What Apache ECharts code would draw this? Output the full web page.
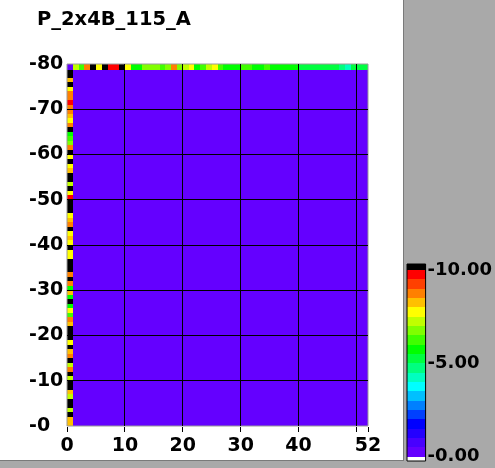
<!DOCTYPE html>
<html><head><meta charset="utf-8">
<script src="https://cdn.jsdelivr.net/npm/echarts@6/dist/echarts.min.js"></script>
<style>html,body{margin:0;padding:0;background:#fff}#c{width:495px;height:468px}</style>
</head><body><div id="c"></div>
<script>
const chartTitle = 'P_2x4B_115_A';
const nCols = 52;
const nRows = 80;
const xTickLabels = [0, 10, 20, 30, 40, 52];
const xTicks = [0, 10, 20, 30, 40, 50, 52];
const xGridLines = [10, 20, 30, 40, 50];
const yGridLines = [10, 20, 30, 40, 50, 60, 70];
const colorBarTicks = [0, 5, 10];
// top row (depth 79..80), columns 0..51
const topRow = [0.2, 7.1, 6.3, 8.7, 11, 7.7, 11, 9.7, 9.7, 11,
  7.7, 5.8, 5.9, 6.6, 6.8, 6.7, 6.2, 6.8, 8.6, 6.9,
  7.2, 7.7, 5.9, 6.0, 7.3, 7.6, 6.1, 5.8, 5.9, 5.7,
  6.2, 6.4, 5.9, 5.8, 6.1, 5.6, 5.8, 5.9, 5.5, 5.7,
  5.2, 5.3, 5.1, 5.2, 5.4, 5.1, 5.0, 4.8, 4.3, 5.1,
  5.3, 5.2];
// left column (x 0..1), rows from depth 0 upward
const leftCol = [8.2, 8.2, 11, 7.2, 11, 11, 7.2, 8.1, 11, 11,
  7.2, 11, 8.7, 7.2, 11, 8.7, 8.2, 11, 7.7, 11,
  11, 11, 8.2, 8.7, 6.2, 7.7, 5.8, 11, 5.8, 8.1,
  5.9, 8.7, 11, 8.7, 11, 11, 11, 7.8, 7.7, 11,
  7.6, 8.2, 7.7, 11, 8.6, 8.3, 7.7, 11, 11, 11,
  9.6, 7.8, 11, 7.1, 11, 11, 8.1, 7.6, 11, 7.7,
  11, 8.6, 6.9, 6.4, 5.8, 11, 8.7, 7.8, 8.2, 8.5,
  8.8, 9.6, 8.8, 8.6, 7.7, 11, 8.2, 11, 11];
const interiorValue = 0;
// colour bins of 0.5 from 0 to 10
const binColors = ['#6400ff', '#4800ff', '#2400ff', '#0000ff', '#0040ff', '#0080ff', '#00c0ff',
  '#00ffff', '#00ffc0', '#00ff80', '#00ff40', '#00ff00', '#40ff00', '#80ff00', '#c0ff00',
  '#ffff00', '#ffc000', '#ff8000', '#ff4000', '#ff0000'];
const overColor = '#000000';
const underColor = '#ffffff';
const binStep = 0.5;

function colorOf(v) {
  if (v > 10) return overColor;
  if (v < 0) return underColor;
  return binColors[Math.min(binColors.length - 1, Math.floor(v / binStep))];
}

const cells = [];
for (let k = 0; k < nRows; k++) {
  for (let c = 0; c < nCols; c++) {
    let v = interiorValue;
    if (k === nRows - 1) v = topRow[c];
    else if (c === 0) v = leftCol[k];
    cells.push([c, k, v]);
  }
}
const barBins = binColors.map((col, i) => [i * binStep, (i + 1) * binStep, i * binStep + 0.25]);
barBins.unshift([-1, 0, -0.5]);
barBins.push([10, 11, 10.5]);

const FONT = 'DejaVu Sans';
const snap = v => Math.round(v - 0.5) + 0.5;
const chart = echarts.init(document.getElementById('c'), null, {renderer: 'canvas'});
chart.setOption({
  animation: false,
  backgroundColor: '#ffffff',
  title: {text: chartTitle, left: 32, top: 5,
    textStyle: {fontFamily: FONT, fontWeight: 'bold', fontSize: 19.5, color: '#000'}},
  graphic: [
    {type: 'rect', z: -10, shape: {x: 404, y: 0, width: 91, height: 468}, style: {fill: '#a9a9a9'}},
    {type: 'rect', z: -10, shape: {x: 0, y: 460, width: 404, height: 8}, style: {fill: '#a9a9a9'}},
    {type: 'line', z: -9, shape: {x1: 403.5, y1: 0, x2: 403.5, y2: 461}, style: {stroke: '#7a7a7a', lineWidth: 1}},
    {type: 'line', z: -9, shape: {x1: 0, y1: 460.5, x2: 404, y2: 460.5}, style: {stroke: '#7a7a7a', lineWidth: 1}}
  ],
  grid: [
    {left: 67, top: 64, width: 301, height: 362, show: true, borderColor: '#9a9a9a', borderWidth: 1, backgroundColor: 'transparent', z: 4},
    {left: 407, top: 264, width: 20, height: 197, show: true, borderColor: '#000', borderWidth: 1, backgroundColor: 'transparent', z: 4}
  ],
  xAxis: [
    {type: 'value', gridIndex: 0, min: 0, max: nCols, interval: 10, z: 3,
      axisLine: {show: false},
      axisTick: {show: false},
      axisLabel: {customValues: xTickLabels, margin: 11, fontFamily: FONT, fontWeight: 'bold', fontSize: 19, color: '#000'},
      splitLine: {show: false}},
    {type: 'value', gridIndex: 1, min: 0, max: 1, show: false}
  ],
  yAxis: [
    {type: 'value', gridIndex: 0, min: 0, max: nRows, interval: 10, z: 3,
      axisLine: {show: false}, axisTick: {show: false},
      axisLabel: {margin: 38, align: 'left', fontFamily: FONT, fontWeight: 'bold', fontSize: 19, color: '#000',
        formatter: v => '-' + v},
      splitLine: {show: false}},
    {type: 'value', gridIndex: 1, min: -0.23, max: 10.32, position: 'right', z: 3,
      axisLine: {show: false},
      axisTick: {show: false},
      axisLabel: {customValues: colorBarTicks, margin: 2, fontFamily: FONT, fontWeight: 'bold', fontSize: 18, color: '#000',
        formatter: v => '-' + v.toFixed(2)},
      splitLine: {show: false}}
  ],
  series: [
    {type: 'custom', xAxisIndex: 0, yAxisIndex: 0, data: cells, clip: true, progressive: 0, z: 1,
      renderItem: function (params, api) {
        const c = api.value(0), k = api.value(1), v = api.value(2);
        const yTop = k + 1;
        const yBot = (k === nRows - 1) ? k - 0.3 : k;
        const p0 = api.coord([c, yBot]);
        const p1 = api.coord([c + 1, yTop]);
        const x = Math.round(p0[0]), y = Math.round(p1[1]);
        return {type: 'rect', shape: {x: x, y: y, width: Math.round(p1[0]) - x, height: Math.round(p0[1]) - y},
          style: {fill: colorOf(v)}};
      }},
    {type: 'custom', xAxisIndex: 0, yAxisIndex: 0, data: xGridLines.map(v => [v, 0]), clip: false, z: 6,
      renderItem: function (params, api) {
        const a = api.coord([api.value(0), 0]);
        const b = api.coord([api.value(0), nRows]);
        const x = snap(a[0]);
        return {type: 'line', shape: {x1: x, y1: a[1], x2: x, y2: b[1]}, style: {stroke: '#000', lineWidth: 1}};
      }},
    {type: 'custom', xAxisIndex: 0, yAxisIndex: 0, data: yGridLines.map(v => [0, v]), clip: false, z: 6,
      renderItem: function (params, api) {
        const a = api.coord([0, api.value(1)]);
        const b = api.coord([nCols, api.value(1)]);
        const y = snap(a[1]);
        return {type: 'line', shape: {x1: a[0], y1: y, x2: b[0], y2: y}, style: {stroke: '#000', lineWidth: 1}};
      }},
    {type: 'custom', xAxisIndex: 0, yAxisIndex: 0, data: xTicks.map(v => [v, 0]), clip: false, z: 6,
      renderItem: function (params, api) {
        const a = api.coord([api.value(0), 0]);
        const x = snap(a[0]);
        return {type: 'line', shape: {x1: x, y1: a[1] + 1, x2: x, y2: a[1] + 6}, style: {stroke: '#000', lineWidth: 1}};
      }},
    {type: 'custom', xAxisIndex: 1, yAxisIndex: 1, data: barBins, clip: true, progressive: 0, z: 1,
      renderItem: function (params, api) {
        const lo = api.value(0), hi = api.value(1), mid = api.value(2);
        const p0 = api.coord([0, lo]);
        const p1 = api.coord([1, hi]);
        const x = Math.round(p0[0]), y = Math.round(p1[1]);
        return {type: 'rect', shape: {x: x, y: y, width: Math.round(p1[0]) - x, height: Math.round(p0[1]) - y},
          style: {fill: colorOf(mid)}};
      }}
  ]
});
</script></body></html>
